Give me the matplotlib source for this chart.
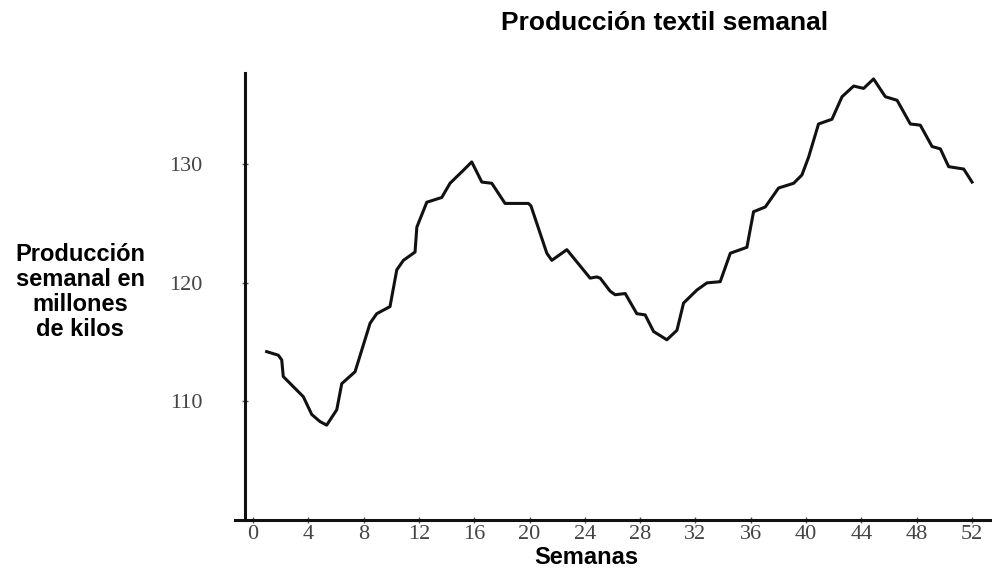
import matplotlib
matplotlib.use("Agg")
import matplotlib.pyplot as plt

# ------------------- DATA ------------------- #
# weekly textile production (week, millions of kilos)
semanas = [0.99, 1.83, 2.08, 2.19, 3.04, 3.64, 4.25, 4.85, 5.33, 6.06,
           6.42, 7.38, 7.62, 8.47, 8.95, 9.91, 10.40, 10.88, 11.72, 11.85,
           12.57, 13.65, 14.25, 15.22, 15.82, 16.55, 17.27, 18.23, 19.92, 20.10,
           21.25, 21.61, 22.70, 23.54, 24.38, 24.87, 25.11, 25.83, 26.19, 26.92,
           27.76, 28.36, 28.97, 29.93, 30.66, 31.14, 32.11, 32.83, 33.79, 34.52,
           35.72, 36.20, 37.05, 38.01, 39.10, 39.70, 40.18, 40.90, 41.87, 42.60,
           43.44, 44.16, 44.88, 45.73, 46.58, 47.54, 48.26, 49.11, 49.71, 50.31,
           51.40, 52.00]
produccion = [114.2, 113.9, 113.5, 112.1, 111.1, 110.4, 108.9, 108.3, 108.0, 109.3,
              111.5, 112.5, 113.4, 116.6, 117.4, 118.0, 121.1, 121.9, 122.6, 124.7,
              126.8, 127.2, 128.4, 129.5, 130.2, 128.5, 128.4, 126.7, 126.7, 126.5,
              122.5, 121.9, 122.8, 121.6, 120.4, 120.5, 120.4, 119.3, 119.0, 119.1,
              117.4, 117.3, 115.9, 115.2, 116.0, 118.3, 119.4, 120.0, 120.1, 122.5,
              123.0, 126.0, 126.4, 128.0, 128.4, 129.1, 130.6, 133.4, 133.8, 135.7,
              136.6, 136.4, 137.2, 135.7, 135.4, 133.4, 133.3, 131.5, 131.3, 129.8,
              129.6, 128.5]

x_ticks = list(range(0, 53, 4))
y_ticks = [110, 120, 130]

titulo = "Producción textil semanal"
etiqueta_y = "Producción\nsemanal en\nmillones\nde kilos"
etiqueta_x = "Semanas"

# ------------------- FIGURE ------------------- #
W, H = 992, 571
fig = plt.figure(figsize=(W / 100, H / 100), dpi=100)
ax = fig.add_axes([235 / W, 51 / H, (990 - 235) / W, (498 - 51) / H])

ax.plot(semanas, produccion, color="#111111", linewidth=2.2, solid_joinstyle="round")

ax.set_xlim(-1.3, 53.3)
ax.set_ylim(100, 137.7)
ax.spines["left"].set_position(("data", -0.6))
for side in ("top", "right"):
    ax.spines[side].set_visible(False)
for side in ("left", "bottom"):
    ax.spines[side].set_linewidth(2.2)
    ax.spines[side].set_color("#111111")

ax.set_xticks(x_ticks)
ax.set_yticks(y_ticks)
ax.tick_params(axis="both", direction="inout", length=5, width=1, color="#555555",
               labelcolor="#444444")
ax.tick_params(axis="y", pad=28)
ax.tick_params(axis="x", pad=1)
for lbl in ax.get_xticklabels() + ax.get_yticklabels():
    lbl.set_family("Liberation Serif")
    lbl.set_fontsize(16)

sans = "Liberation Sans"
fig.text(665 / W, 1 - 23 / H, titulo, ha="center", va="center",
         fontsize=19, fontweight="bold", family=sans)
fig.text(80 / W, 1 - 292 / H, etiqueta_y, ha="center", va="center",
         fontsize=17, fontweight="bold", family=sans, linespacing=1.12)
fig.text(586 / W, 1 - 558 / H, etiqueta_x, ha="center", va="center",
         fontsize=17, fontweight="bold", family=sans)

fig.savefig("out.png", dpi=100, facecolor="white")
